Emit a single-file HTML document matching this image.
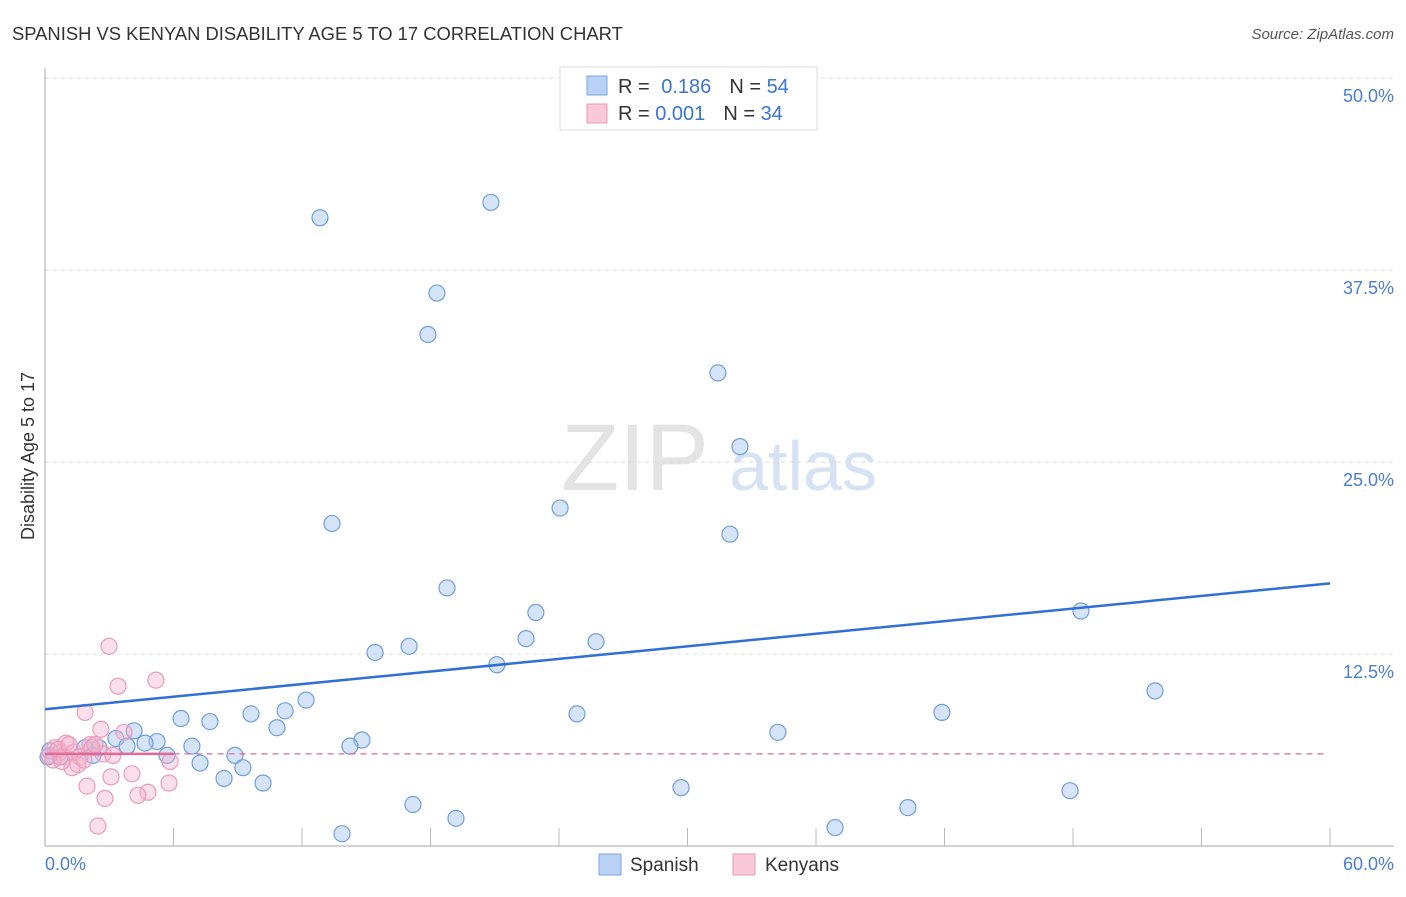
<!DOCTYPE html>
<html><head><meta charset="utf-8"><style>
body{margin:0;background:#fff;font-family:"Liberation Sans",sans-serif;}
svg text{font-family:"Liberation Sans",sans-serif;}
</style></head><body>
<svg id="chart" width="1406" height="892" xmlns="http://www.w3.org/2000/svg">
<text x="12" y="40" font-size="18.4" fill="#333">SPANISH VS KENYAN DISABILITY AGE 5 TO 17 CORRELATION CHART</text>
<text x="1394" y="39" font-size="15" fill="#555" font-style="italic" text-anchor="end">Source: ZipAtlas.com</text>
<g>
<text x="635" y="490" font-size="95" fill="#e4e4e4" font-family="Liberation Serif,serif" text-anchor="middle">ZIP</text>
<text x="803" y="490" font-size="70" fill="#d6e3f5" text-anchor="middle">atlas</text>
</g>
<g id="grid"></g>
<g id="axes"></g>
<g id="marks"></g>
<text transform="translate(34,456) rotate(-90)" font-size="18" fill="#333" text-anchor="middle">Disability Age 5 to 17</text>
<text x="45" y="870" font-size="18" fill="#4a7fd4">0.0%</text>
<text x="1394" y="870" font-size="18" fill="#4a7fd4" text-anchor="end">60.0%</text>
<g>
<rect x="560" y="67" width="257" height="63" fill="#fff" stroke="#ddd"/>
<rect x="587" y="76" width="20" height="19" fill="#b8d1f5" stroke="#7aa6e6"/>
<rect x="587" y="104" width="20" height="19" fill="#fac8d8" stroke="#e89ab8"/>
<text x="618" y="93" font-size="20" fill="#333">R = <tspan fill="#3a74d4" dx="6">0.186</tspan><tspan fill="#333" dx="18">N = </tspan><tspan fill="#3a74d4">54</tspan></text>
<text x="618" y="120" font-size="20" fill="#333">R = <tspan fill="#3a74d4">0.001</tspan><tspan fill="#333" dx="18">N = </tspan><tspan fill="#3a74d4">34</tspan></text>
</g>
<g>
<rect x="599" y="854" width="22" height="21" fill="#b8d1f5" stroke="#7aa6e6"/>
<text x="630" y="871" font-size="19" fill="#333">Spanish</text>
<rect x="733" y="854" width="22" height="21" fill="#fac8d8" stroke="#e89ab8"/>
<text x="765" y="871" font-size="19" fill="#333">Kenyans</text>
</g>
</svg>
<script>
const yTicks=[12.5,25,37.5,50];
const yTickLabels=["12.5%","25.0%","37.5%","50.0%"];
const xTicks=[6,12,18,24,30,36,42,48,54,60];
const spanishX=[12.84,20.82,18.30,17.88,31.42,32.45,13.40,24.05,31.98,18.77,22.92,48.37,22.46,25.73,17.00,15.41,21.10,51.83,12.19,11.21,9.62,24.84,41.88,6.35,7.70,10.83,34.22,4.16,3.31,14.80,14.24,5.23,4.67,6.86,3.83,2.52,1.87,5.70,8.87,2.24,0.70,0.23,7.24,9.24,8.36,10.18,29.70,47.86,17.18,40.29,19.19,13.87,36.89,0.14];
const spanishY=[40.9,41.9,36.0,33.3,30.8,26.0,21.0,22.0,20.3,16.8,15.2,15.3,13.5,13.3,13.0,12.6,11.8,10.1,9.5,8.8,8.6,8.6,8.7,8.3,8.1,7.7,7.4,7.5,7.0,6.9,6.5,6.8,6.7,6.5,6.5,6.4,6.4,5.9,5.9,5.9,5.8,6.2,5.4,5.1,4.4,4.1,3.8,3.6,2.7,2.5,1.8,0.8,1.2,5.8];
const kenyanX=[2.99,5.18,3.41,1.87,3.69,2.61,2.10,0.98,0.47,0.70,1.35,0.19,0.37,0.89,1.63,2.71,3.17,2.19,5.84,1.54,1.26,3.08,4.06,1.96,5.79,4.81,4.34,2.80,2.47,0.61,1.12,1.82,0.79,2.33];
const kenyanY=[13.0,10.8,10.4,8.7,7.4,7.6,6.6,6.7,6.4,6.1,6.1,5.9,5.6,5.8,5.8,6.0,5.9,6.4,5.5,5.3,5.1,4.5,4.7,3.9,4.1,3.5,3.3,3.1,1.3,6.3,6.6,5.6,5.5,6.6];
const spanishTrend=[8.9,17.1];
const kenyanTrend=[6.0,6.0];
const X=v=>45+v/60*1285;
const Y=v=>846-v/12.5*192;
const NS="http://www.w3.org/2000/svg";
function mk(parent,tag,attrs){const e=document.createElementNS(NS,tag);for(const k in attrs)e.setAttribute(k,attrs[k]);document.getElementById(parent).appendChild(e);return e;}
yTicks.forEach((t,i)=>{
 const l=mk('grid','line',{x1:45,x2:1394,y1:Y(t),y2:Y(t),stroke:'#ddd','stroke-dasharray':'4,4'});
 
 
 const tx=mk('grid','text',{x:1394,y:Y(t)+24,'font-size':18,fill:'#4a7fd4','text-anchor':'end'});
 tx.textContent=yTickLabels[i];
 
 
});
const ax=mk('axes','line',{x1:45,x2:1394,y1:846,y2:846,stroke:'#aaa'});


const ay=mk('axes','line',{x1:45,x2:45,y1:68,y2:846,stroke:'#aaa'});


xTicks.forEach(t=>{
 const l=mk('axes','line',{x1:X(t),x2:X(t),y1:828,y2:846,stroke:'#bbb'});
 
 
});
spanishX.forEach((x,i)=>{
 const c=mk('marks','circle',{cx:X(x),cy:Y(spanishY[i]),r:8,fill:'rgba(164,196,244,0.45)',stroke:'#6f9ee0','stroke-width':1.2});
 
 
});
kenyanX.forEach((x,i)=>{
 const c=mk('marks','circle',{cx:X(x),cy:Y(kenyanY[i]),r:8,fill:'rgba(246,176,202,0.4)',stroke:'#eb9cbb','stroke-width':1.2});
 
 
});
const t1=mk('marks','line',{x1:X(0),x2:X(60),y1:Y(spanishTrend[0]),y2:Y(spanishTrend[1]),stroke:'#2f6fd6','stroke-width':2.5});


const t2=mk('marks','line',{x1:X(0),x2:X(6),y1:Y(kenyanTrend[0]),y2:Y(kenyanTrend[0]),stroke:'#e06a95','stroke-width':2.5});


const t3=mk('marks','line',{x1:X(6),x2:X(59.8),y1:Y(kenyanTrend[0]),y2:Y(kenyanTrend[1]),stroke:'#e06a95','stroke-width':1.2,'stroke-dasharray':'6,5'});


</script>
</body></html>
